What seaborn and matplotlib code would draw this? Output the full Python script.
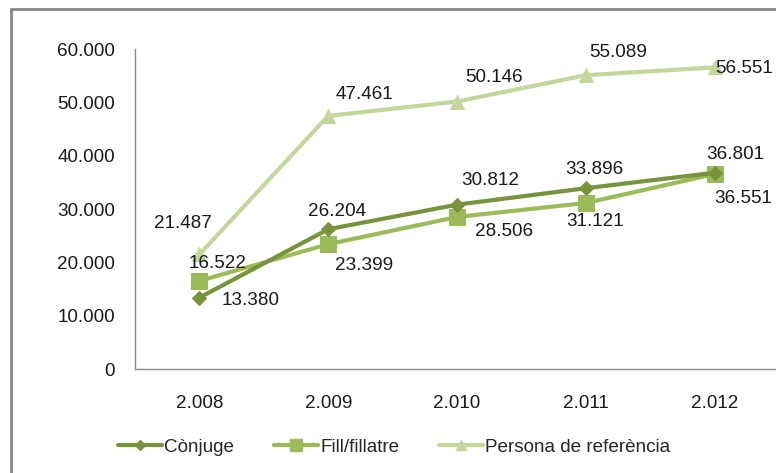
import matplotlib
matplotlib.use("Agg")
import matplotlib.pyplot as plt
import matplotlib.patches as mpatches
from matplotlib.lines import Line2D
import seaborn as sns
import pandas as pd

years = ["2.008", "2.009", "2.010", "2.011", "2.012"]
conjuge = [13380, 26204, 30812, 33896, 36801]
fill = [16522, 23399, 28506, 31121, 36551]
persona = [21487, 47461, 50146, 55089, 56551]
series_names = ["Cònjuge", "Fill/fillatre", "Persona de referència"]
y_ticks = [0, 10000, 20000, 30000, 40000, 50000, 60000]

colors = {"Cònjuge": "#77933C", "Fill/fillatre": "#9BBB59", "Persona de referència": "#C3D69B"}
markers = {"Cònjuge": "D", "Fill/fillatre": "s", "Persona de referència": "^"}
msizes = {"Cònjuge": 7, "Fill/fillatre": 12, "Persona de referència": 10}

# label offsets in pixels (dx, dy down-positive) relative to each point
offsets = {
    "Cònjuge": [(51, 3), (9, -18), (33, -24), (9, -19), (21, -18)],
    "Fill/fillatre": [(18, -17), (36, 21), (47, 15), (9, 18), (29, 24)],
    "Persona de referència": [(-16, -31), (36, -21), (37, -24), (32, -23), (29, 1)],
}

FONT = "Liberation Sans"
FS = 13.6

sns.set_theme(style="white")
plt.rcParams["font.family"] = [FONT, "DejaVu Sans"]

W, H = 776, 473
fig = plt.figure(figsize=(W / 100, H / 100), dpi=100)
ax = fig.add_axes([135 / W, (H - 369) / H, (779 - 135) / W, (369 - 49) / H])

data = {"Cònjuge": conjuge, "Fill/fillatre": fill, "Persona de referència": persona}
rows = []
for name in series_names:
    for i, v in enumerate(data[name]):
        rows.append({"x": i, "value": v, "serie": name})
df = pd.DataFrame(rows)

for name in reversed(series_names):
    sub = df[df["serie"] == name]
    sns.lineplot(data=sub, x="x", y="value", ax=ax, color=colors[name], lw=3,
                 marker=markers[name], markersize=msizes[name],
                 markeredgecolor=colors[name], legend=False)
    for (i, v), (dx, dy) in zip(zip(sub["x"], sub["value"]), offsets[name]):
        ax.annotate(f"{v/1000:.3f}", (i, v), xytext=(dx, -dy), textcoords="offset pixels",
                    ha="center", va="center", fontsize=FS, color="#1a1a1a")

ax.set_xlim(-0.5, 4.5)
ax.set_ylim(0, 60000)
ax.set_yticks(y_ticks)
ax.set_yticklabels([f"{t/1000:.3f}" if t else "0" for t in y_ticks])
ax.set_xticks(range(len(years)))
ax.set_xticklabels(years)
ax.set_xlabel("")
ax.set_ylabel("")
ax.tick_params(axis="both", length=0, labelsize=FS, colors="#1a1a1a")
ax.tick_params(axis="y", pad=14.4)
ax.tick_params(axis="x", pad=19)
for s in ["top", "right"]:
    ax.spines[s].set_visible(False)
for s in ["left", "bottom"]:
    ax.spines[s].set_color("#8c8c8c")
    ax.spines[s].set_linewidth(1)
ax.grid(False)

handles = [Line2D([0], [0], color=colors[n], lw=3, marker=markers[n],
                  markersize=msizes[n] * 0.75, markeredgecolor=colors[n]) for n in series_names]
px = FS * 100 / 72  # font size in pixels
fig.legend(handles, series_names, loc="center left", bbox_to_anchor=(118 / W, 1 - 447 / H),
           ncol=3, frameon=False, fontsize=FS, handlelength=44 / px, handletextpad=2 / px,
           columnspacing=40 / px, borderpad=0, borderaxespad=0)

fig.patches.append(mpatches.Rectangle((11 / W, -0.1), 2, 1.1 - 9 / H, transform=fig.transFigure,
                                      fill=False, ec="#868686", lw=2))

fig.savefig("out.png", dpi=100)
